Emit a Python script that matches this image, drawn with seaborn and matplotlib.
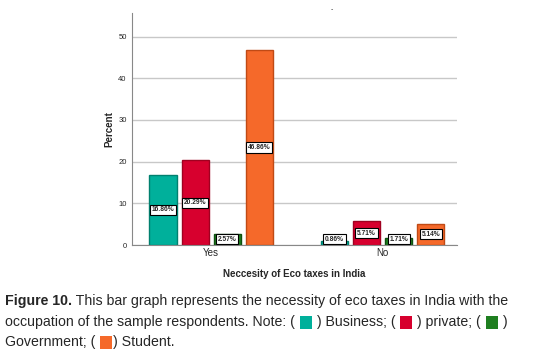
import pandas as pd
import numpy as np
import matplotlib
matplotlib.use("Agg")
import matplotlib.pyplot as plt
import seaborn as sns
from matplotlib.patches import Rectangle

answers = ['Yes', 'No']
occupations = ['Business', 'private', 'Government', 'Student']
yes_pct = [16.86, 20.29, 2.57, 46.86]
no_pct = [0.86, 5.71, 1.71, 5.14]
bar_colors = ['#00B09B', '#D7002E', '#1F7F20', '#F5692A']
edge_colors = ['#00806F', '#A00020', '#0F5010', '#C04A15']

df = pd.DataFrame({
    'answer': np.repeat(answers, len(occupations)),
    'occupation': occupations * len(answers),
    'percent': yes_pct + no_pct,
})

sns.set_style('white')
plt.rcParams['font.family'] = ['Liberation Sans', 'DejaVu Sans']

W, H = 555, 359
fig = plt.figure(figsize=(W / 100, H / 100), dpi=100)
ax = fig.add_axes([132.3 / W, 1 - 245 / H, (456.7 - 132.3) / W, (245 - 13.3) / H])

sns.barplot(data=df, x='answer', y='percent', hue='occupation', order=answers,
            hue_order=occupations, palette=bar_colors, saturation=1, width=0.75, gap=0.15,
            legend=False, ax=ax, linewidth=1)

for cont, ec in zip(ax.containers, edge_colors):
    for p in cont:
        p.set_edgecolor(ec)
        h = p.get_height()
        ax.text(p.get_x() + p.get_width() / 2, max(h / 2, 1.4), f'{h:.2f}%',
                ha='center', va='center', fontsize=4.8, fontweight='bold',
                bbox=dict(boxstyle='square,pad=0.25', fc='white', ec='black', lw=0.8),
                zorder=5)

ax.set_xlim(-0.461, 1.433)
ax.set_ylim(0, 55.6)
ax.set_yticks([0, 10, 20, 30, 40, 50])
ax.yaxis.grid(True, color='#c8c8c8', lw=1)
ax.set_axisbelow(True)
ax.tick_params(axis='y', length=0, labelsize=5.5, pad=4)
ax.tick_params(axis='x', length=0, labelsize=7, pad=2)
for s in ['top', 'right']:
    ax.spines[s].set_visible(False)
ax.spines['left'].set_color('#888888')
ax.spines['bottom'].set_color('#888888')
ax.set_ylabel('Percent', fontsize=7, fontweight='bold', labelpad=3)
ax.set_xlabel('Neccesity of Eco taxes in India', fontsize=7, fontweight='bold', labelpad=8)
fig.text(332 / W, 1 - 10 / H, '-', fontsize=5, ha='center', va='center', color='#333333')

# caption
cap_font = ['Liberation Sans Narrow', 'Liberation Sans', 'DejaVu Sans']
renderer = fig.canvas.get_renderer()


def caption_line(items, y):
    x = 5
    for item in items:
        if len(item) == 1:
            fig.add_artist(Rectangle(((x + 1) / W, 1 - (y + 6.5) / H), 12 / W, 13 / H,
                                     transform=fig.transFigure, fc=item[0],
                                     ec='none'))
            x += 14
        else:
            text, bold = item
            t = fig.text(x / W, 1 - y / H, text, fontsize=10.2, family=cap_font,
                         fontweight='bold' if bold else 'normal', va='center', ha='left')
            bb = t.get_window_extent(renderer)
            x += bb.width


caption_line([('Figure 10.', True),
              (' This bar graph represents the necessity of eco taxes in India with the', False)], 301)
caption_line([('occupation of the sample respondents. Note: ( ', False), (bar_colors[0],),
              (' ) Business; ( ', False), (bar_colors[1],), (' ) private; ( ', False),
              (bar_colors[2],), (' )', False)], 322)
caption_line([('Government; ( ', False), (bar_colors[3],), (') Student.', False)], 342)

fig.savefig('out.png', dpi=100)
